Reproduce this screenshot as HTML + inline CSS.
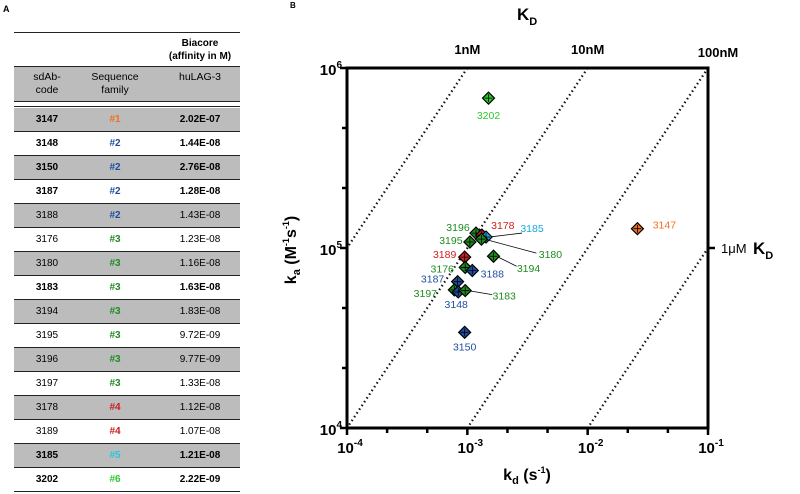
<!DOCTYPE html>
<html><head><meta charset="utf-8"><style>
body{margin:0;background:#fff;font-family:"Liberation Sans",Arial,sans-serif;}
#wrap{position:relative;width:800px;height:494px;overflow:hidden;}
.row{position:absolute;left:14px;width:226px;height:23px;border-bottom:1.5px solid #222;font-size:10px;line-height:23px;}
.row.g{background:#bcbcbc;}
.row.b{font-weight:bold;}
.row span{position:absolute;top:0;text-align:center;}
</style></head><body>
<div id="wrap">
<div style="position:absolute;left:3px;top:4px;font-size:9px;font-weight:bold">A</div>
<div style="position:absolute;left:14px;top:32px;width:226px;border-top:1.5px solid #222"></div>
<div style="position:absolute;left:158px;top:37px;width:84px;text-align:center;font-size:10px;font-weight:bold;line-height:13px">Biacore<br>(affinity in M)</div>
<div style="position:absolute;left:14px;top:66px;width:226px;height:34px;background:#bcbcbc;border-top:1.5px solid #222;border-bottom:1.5px solid #222;font-size:10.5px;line-height:13px">
<div style="position:absolute;left:8px;top:4px;width:50px;text-align:center">sdAb-<br>code</div>
<div style="position:absolute;left:58px;top:4px;width:86px;text-align:center">Sequence<br>family</div>
<div style="position:absolute;left:146px;top:4px;width:80px;text-align:center">huLAG-3</div>
</div>
<div style="position:absolute;left:14px;top:101px;width:226px;height:5px;border-bottom:1.5px solid #222"></div>
<div id="tbl"></div>
<svg id="chart" width="800" height="494" style="position:absolute;left:0;top:0"></svg>
</div>
<script>
const rows=[["3147","#1","2.02E-07","#f07020",1],["3148","#2","1.44E-08","#1f4ea0",1],["3150","#2","2.76E-08","#1f4ea0",1],["3187","#2","1.28E-08","#1f4ea0",1],["3188","#2","1.43E-08","#1f4ea0",0],["3176","#3","1.23E-08","#1e8c1e",0],["3180","#3","1.16E-08","#1e8c1e",0],["3183","#3","1.63E-08","#1e8c1e",1],["3194","#3","1.83E-08","#1e8c1e",0],["3195","#3","9.72E-09","#1e8c1e",0],["3196","#3","9.77E-09","#1e8c1e",0],["3197","#3","1.33E-08","#1e8c1e",0],["3178","#4","1.12E-08","#c81e1e",0],["3189","#4","1.07E-08","#c81e1e",0],["3185","#5","1.21E-08","#22c8e0",1],["3202","#6","2.22E-09","#2ec82e",1]];
const tbl=document.getElementById('tbl');
rows.forEach((r,i)=>{const d=document.createElement('div');


d.className='row'+(i%2==0?' g':'')+(r[4]?' b':'');
d.style.top=(108+i*24.0).toFixed(1)+'px';
d.innerHTML=`<span style="left:8px;width:50px">${r[0]}</span><span style="left:58px;width:86px;color:${r[3]};font-weight:bold">${r[1]}</span><span style="left:146px;width:80px">${r[2]}</span>`;tbl.appendChild(d);});

// chart data
const names=["3202","3147","3196","3178","3185","3180","3195","3189","3194","3176","3188","3187","3197","3148","3183","3150"];
const kd=[1.5e-3,2.59e-2,1.18e-3,1.32e-3,1.43e-3,1.31e-3,1.05e-3,9.5e-4,1.65e-3,9.6e-4,1.1e-3,8.3e-4,7.8e-4,8.4e-4,9.6e-4,9.5e-4];
const ka=[6.8e5,1.28e5,1.21e5,1.18e5,1.15e5,1.12e5,1.08e5,8.9e4,9.0e4,7.8e4,7.5e4,6.5e4,5.85e4,5.7e4,5.8e4,3.4e4];
const colors=["#2ec82e","#f07020","#1e8c1e","#d02020","#1aa8e0","#1e8c1e","#1e8c1e","#d02020","#1e8c1e","#1e8c1e","#1f4ea0","#1f4ea0","#1e8c1e","#1f4ea0","#1e8c1e","#1f4ea0"];
const xTicks=[-4,-3,-2,-1],yTicks=[4,5,6];
const kdLines=[1e-9,1e-8,1e-7,1e-6];
const topLabels=["1nM","10nM","100nM"];
// label center offsets from point [dx,dy,leaderDx,leaderDy] (layout)
const lab=[[0,17],[27,-4],[-18,-6],[21,-10],[46,-9,36,-4],[69,15,55,14],[-19,-2],[-20,-3],[35,12,23,10],[-23,1],[20,3],[-25,-3],[-29,3],[-2,12],[39,5,27,4],[0,14]];

const L=347,R=708,T=68,B=428;
const X=v=>L+(Math.log10(v)+4)*(R-L)/3;
const Y=v=>B-(Math.log10(v)-4)*(B-T)/2;
const svg=document.getElementById('chart');const NS='http://www.w3.org/2000/svg';
function el(t,a,p){const e=document.createElementNS(NS,t);for(const k in a)e.setAttribute(k,a[k]);(p||svg).appendChild(e);return e;}
const clip=el('clipPath',{id:'c'});el('rect',{x:L,y:T,width:R-L,height:B-T},clip);
const g=el('g',{'clip-path':'url(#c)'});
kdLines.forEach((K,i)=>{const a=1e3,b=1e7;const ln=el('line',{x1:X(K*a),y1:Y(a),x2:X(K*b),y2:Y(b),stroke:'#111','stroke-width':2.2,'stroke-dasharray':'1.5 3'},g);

});
const frame=el('rect',{x:L,y:T,width:R-L,height:B-T,fill:'none',stroke:'#000','stroke-width':3});


for(let i=0;i<=9;i++){const x=L+i*(R-L)/9;el('line',{x1:x,y1:B,x2:x,y2:B+(i%3==0?7:5),stroke:'#000','stroke-width':2.5});}
for(let i=0;i<=6;i++){const y=B-i*(B-T)/6;el('line',{x1:L,y1:y,x2:L-(i%3==0?7:5),y2:y,stroke:'#000','stroke-width':2.5});}
el('line',{x1:R,y1:Y(1e5),x2:R+7,y2:Y(1e5),stroke:'#000','stroke-width':2.5});
function txt(s,x,y,o){const t=el('text',Object.assign({x:x,y:y,'font-family':'Liberation Sans, Arial, sans-serif'},o));t.innerHTML=s;return t;}
xTicks.forEach(v=>{const t=txt(`10<tspan dy="-7" font-size="10">${v}</tspan>`,X(Math.pow(10,v))+3,B+25,{'font-size':15,'font-weight':'bold','text-anchor':'middle'});

});
yTicks.forEach(v=>{const t=txt(`10<tspan dy="-7" font-size="10">${v}</tspan>`,L-5,Y(Math.pow(10,v))+7,{'font-size':15,'font-weight':'bold','text-anchor':'end'});

});
topLabels.forEach((s,i)=>{const t=txt(s,X(kdLines[i]*1e6)+(i==2?10:0),T-14+(i==2?3:0),{'font-size':13,'font-weight':'bold','text-anchor':'middle'});

});
let t=txt('1μM',R+13,Y(1e5)+5,{'font-size':13});
t=txt('K<tspan font-size="11" dy="5">D</tspan>',R+45,Y(1e5)+6,{'font-size':17,'font-weight':'bold'});
t=txt('K<tspan font-size="11" dy="5">D</tspan>',517,20,{'font-size':17,'font-weight':'bold'});
t=txt('k<tspan font-size="11" dy="4">d</tspan><tspan dy="-4"> (s</tspan><tspan font-size="9" dy="-7">-1</tspan><tspan dy="7">)</tspan>',527,480,{'font-size':16,'font-weight':'bold','text-anchor':'middle'});
t=txt('k<tspan font-size="11" dy="4">a</tspan><tspan dy="-4"> (M</tspan><tspan font-size="9" dy="-7">-1</tspan><tspan dy="7">s</tspan><tspan font-size="9" dy="-7">-1</tspan><tspan dy="7">)</tspan>',0,0,{'font-size':16,'font-weight':'bold','text-anchor':'middle',transform:'translate(296,250) rotate(-90)'});
t=txt('B',290,8,{'font-size':8,'font-weight':'bold'});
names.forEach((n,i)=>{const x=X(kd[i]),y=Y(ka[i]);const o=lab[i];
if(o.length>2){const l=el('line',{x1:x+3,y1:y,x2:x+o[2],y2:y+o[3],stroke:'#000','stroke-width':0.8});}
const p=el('polygon',{points:`${x},${y-6} ${x+6},${y} ${x},${y+6} ${x-6},${y}`,fill:colors[i],stroke:'#000','stroke-width':1.2});


el('path',{d:`M${x-4} ${y}H${x+4}M${x} ${y-4}V${y+4}`,stroke:'#000','stroke-width':0.8});
const lt=txt(n,x+o[0],y+o[1]+4,{'font-size':10.5,fill:colors[i],'text-anchor':'middle'});

});
</script>
</body></html>
